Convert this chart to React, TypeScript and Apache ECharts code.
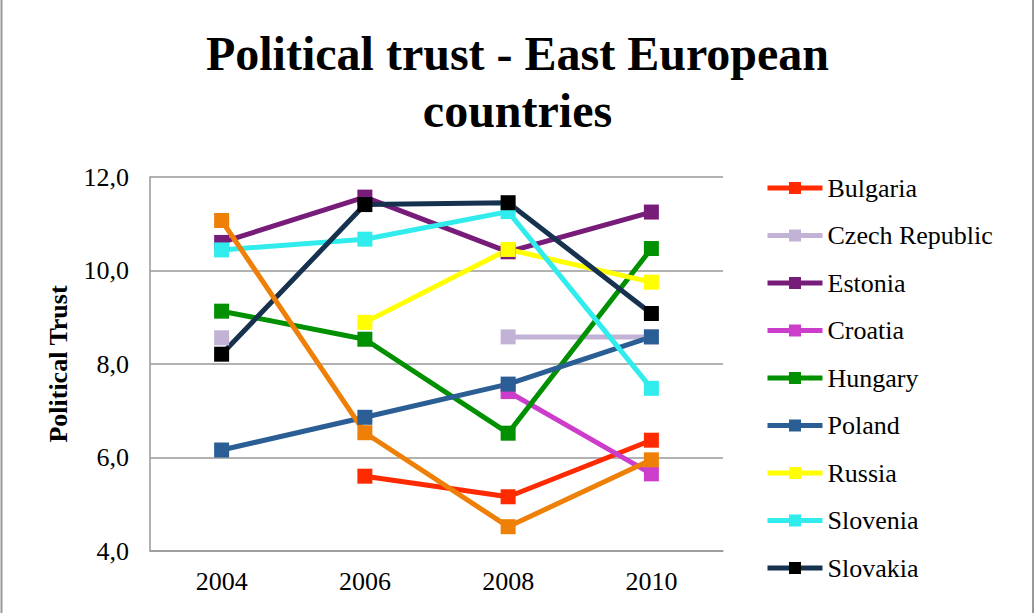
import React, { useEffect, useRef } from "react";
import * as echarts from "echarts";

const years = ["2004", "2006", "2008", "2010"];
const bulgaria = [null, 5.6, 5.16, 6.37];
const czech = [8.56, null, 8.58, 8.58];
const estonia = [10.6, 11.57, 10.4, 11.25];
const croatia = [null, null, 7.41, 5.65];
const hungary = [9.13, 8.53, 6.52, 10.47];
const poland = [6.16, 6.86, 7.57, 8.58];
const russia = [null, 8.89, 10.45, 9.75];
const slovenia = [10.44, 10.67, 11.26, 7.48];
const slovakia = [8.21, 11.41, 11.45, 9.08];
const other = [11.07, 6.53, 4.52, 5.95];

const serif = "Liberation Serif";

export default function App() {
  const ref = useRef<HTMLDivElement>(null);
  useEffect(() => {
    if (!ref.current) return;
    const chart = echarts.init(ref.current, null, { renderer: "svg" });
    const mk = (name: string, data: (number | null)[], color: string, markerColor?: string) => ({
      name,
      type: "line",
      data,
      connectNulls: false,
      symbol: "rect",
      symbolSize: 15,
      lineStyle: { width: 5, color },
      itemStyle: { color: markerColor || color, borderWidth: 0 },
      emphasis: { disabled: true },
    });
    chart.setOption({
      animation: false,
      backgroundColor: "#fff",
      textStyle: { fontFamily: serif },
      title: {
        text: "Political trust - East European\ncountries",
        left: "center",
        top: 20,
        textStyle: {
          fontFamily: serif,
          fontWeight: "bold",
          fontSize: 48,
          lineHeight: 57,
          color: "#000",
        },
      },
      graphic: [
        { type: "line", shape: { x1: 1.5, y1: 0, x2: 1.5, y2: 613 }, style: { stroke: "#999", lineWidth: 2 } },
        { type: "line", shape: { x1: 1033, y1: 0, x2: 1033, y2: 613 }, style: { stroke: "#999", lineWidth: 2 } },
      ],
      grid: { left: 150, right: 312, top: 177, bottom: 62, containLabel: false },
      legend: {
        orient: "vertical",
        left: 760,
        top: 170,
        itemWidth: 55,
        itemHeight: 15,
        itemGap: 21.5,
        lineStyle: { width: 5 },
        data: ["Bulgaria", "Czech Republic", "Estonia", "Croatia", "Hungary", "Poland", "Russia", "Slovenia", "Slovakia"],
        textStyle: { fontFamily: serif, fontSize: 26, color: "#000", lineHeight: 26 },
      },
      xAxis: {
        type: "category",
        data: years,
        boundaryGap: true,
        axisLine: { lineStyle: { color: "#999", width: 1.5 } },
        axisTick: { show: false },
        axisLabel: { fontFamily: serif, fontSize: 26, color: "#000", margin: 17 },
      },
      yAxis: {
        type: "value",
        min: 4,
        max: 12,
        interval: 2,
        name: "Political Trust",
        nameLocation: "middle",
        nameGap: 79,
        nameTextStyle: { fontFamily: serif, fontSize: 26, fontWeight: "bold", color: "#000" },
        axisLine: { show: true, lineStyle: { color: "#999", width: 1.5 } },
        axisTick: { show: false },
        splitLine: { lineStyle: { color: "#999", width: 1.5 } },
        axisLabel: {
          fontFamily: serif,
          fontSize: 26,
          color: "#000",
          margin: 21,
          formatter: (v: number) => v.toFixed(1).replace(".", ","),
        },
      },
      series: [
        mk("Bulgaria", bulgaria, "#FF2A00"),
        mk("Czech Republic", czech, "#C2B2D5"),
        mk("Estonia", estonia, "#781C7A"),
        mk("Croatia", croatia, "#CC3DCC"),
        mk("Hungary", hungary, "#009000"),
        mk("Poland", poland, "#2A5E94"),
        mk("Russia", russia, "#FFFF00"),
        mk("Slovenia", slovenia, "#30ECEC"),
        mk("Slovakia", slovakia, "#17324F", "#000000"),
        mk("Other", other, "#EE8008"),
      ],
    });
    return () => chart.dispose();
  }, []);
  return (
    <div
      ref={ref}
      style={{ position: "absolute", left: 0, top: 0, width: 1035, height: 613 }}
    />
  );
}
